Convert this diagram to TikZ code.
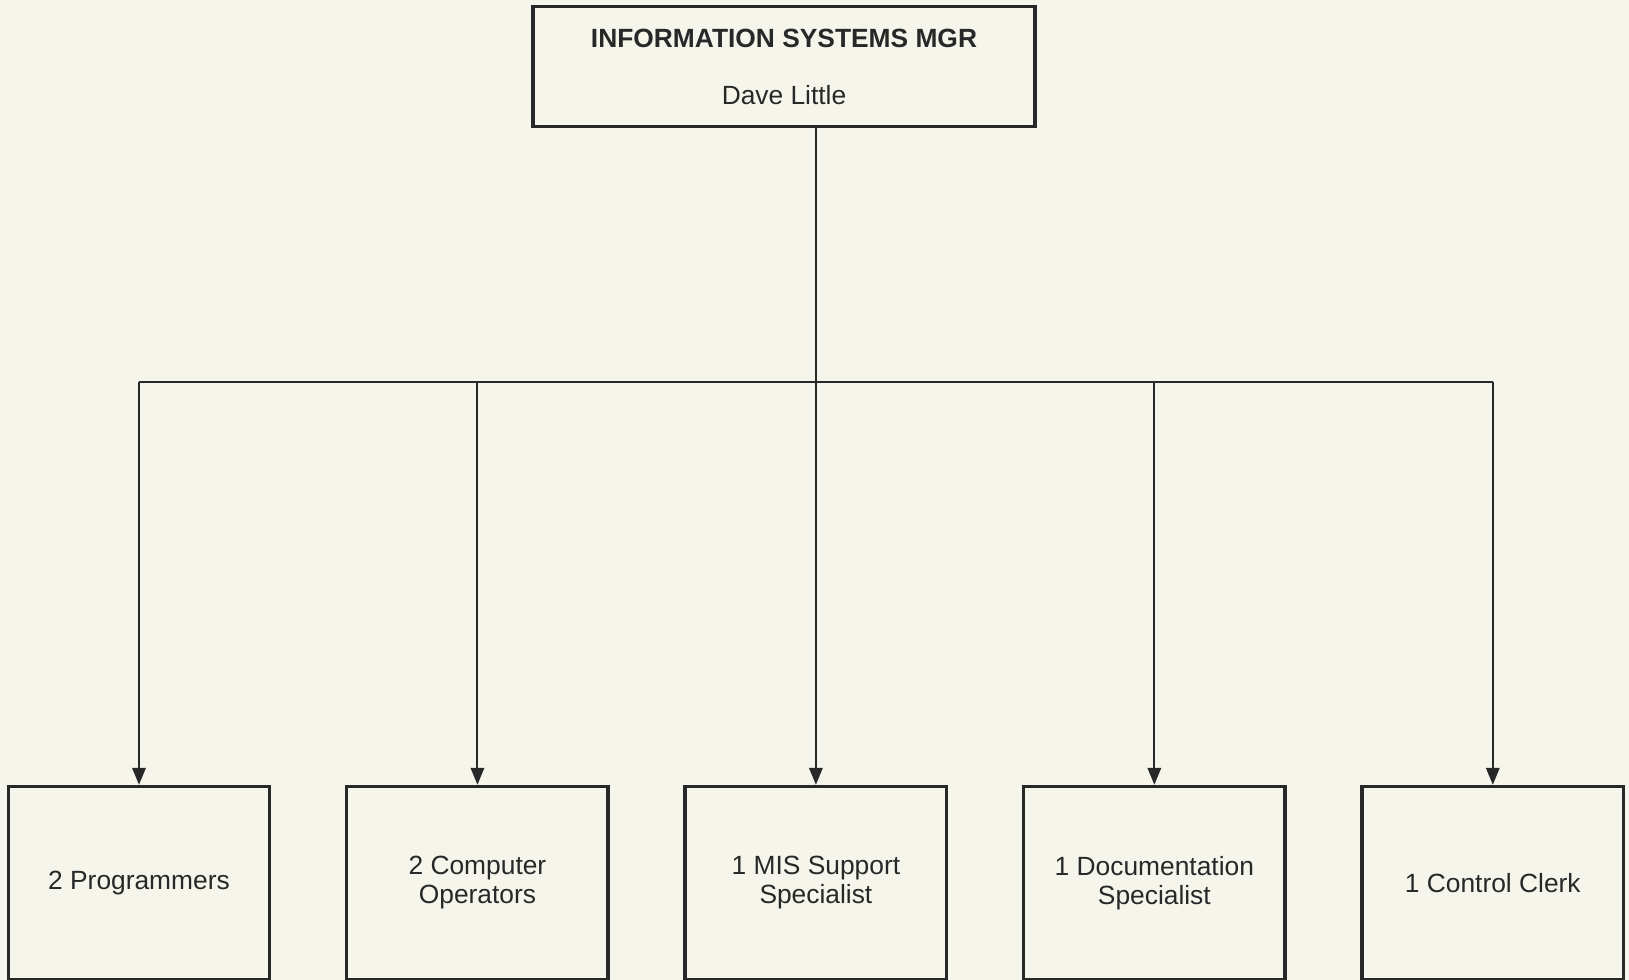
\documentclass[tikz,border=0pt]{standalone}
\usepackage{fontspec}
\setmainfont{Liberation Sans}
\usetikzlibrary{arrows.meta,positioning}
\definecolor{paper}{RGB}{246,245,236}
\definecolor{ink}{RGB}{40,40,40}
\tikzset{
  box/.style={draw=ink, line width=2pt, align=center, fill=paper,
    minimum width=5.23cm, minimum height=3.86cm, inner sep=4pt,
    font=\fontsize{15}{16.5}\selectfont, text=ink},
  headbox/.style={box, minimum width=10.05cm, minimum height=2.4cm},
  arr/.style={-{Triangle[length=3.4mm,width=2.7mm]}, line width=1.1pt, draw=ink},
  wire/.style={line width=1.1pt, draw=ink}
}
\begin{document}
\begin{tikzpicture}[x=0.02cm, y=-0.02cm, node distance=1.47cm]
  \fill[paper] (0,0) rectangle (1629,980);
  \useasboundingbox (0,0) rectangle (1629,980);

  \node[headbox] (mgr) at (784,66.5)
    {\textbf{INFORMATION SYSTEMS MGR}\\[16pt]Dave Little};

  \node[box] (prog) at (139,883) {2 Programmers};
  \node[box, right=of prog] (oper) {2 Computer\\Operators};
  \node[box, right=of oper] (mis) {1 MIS Support\\Specialist};
  \node[box, right=of mis] (docu) {1 Documentation\\Specialist};
  \node[box, right=of docu] (clerk) {1 Control Clerk};

  \coordinate (bus) at (0,382);
  \draw[arr] (mgr.south -| mis.north) -- (mis.north);
  \draw[wire] (prog.north |- bus) -- (clerk.north |- bus);
  \foreach \n in {prog,oper,docu,clerk}
    \draw[arr] (\n.north |- bus) -- (\n.north);
\end{tikzpicture}
\end{document}
